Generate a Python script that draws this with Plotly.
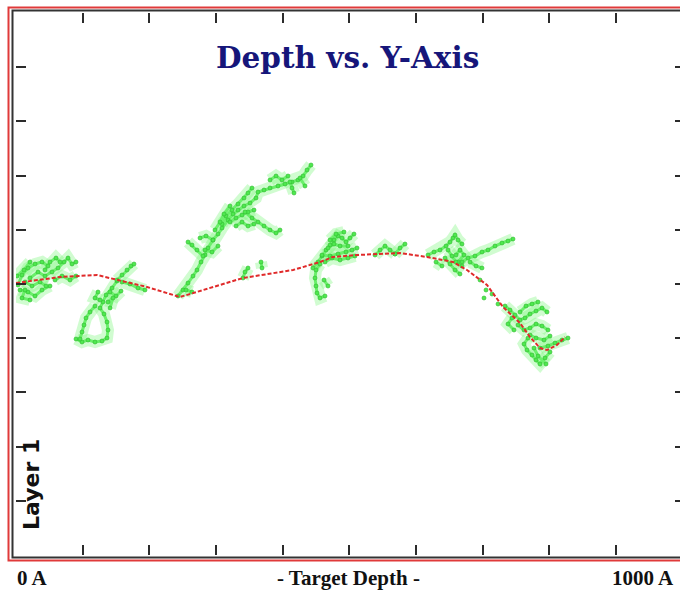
import plotly.graph_objects as go

# ---------------------------------------------------------------
# Mean path of the deposit: target depth (A) vs. lateral Y position
# ---------------------------------------------------------------
path_depth = [0, 36, 66, 121.5, 151.5, 196.5, 246, 265.5, 340.5, 415.5, 456, 475.5,
              511.5, 576, 616.5, 655.5, 676.5, 706.5, 730.5, 756, 771, 786, 796.5,
              811.5, 823.5]
path_y = [1, 4, 7, 9, 4, -3, -13, -9, 6, 14, 22, 27, 29, 31, 27, 22, 14, -1, -23,
          -39, -53, -64, -66, -61, -53]

# ---------------------------------------------------------------
# Dendritic clusters (None separates individual branches)
# ---------------------------------------------------------------
cluster_a_depth = [3, 9, 18, 28.5, 39, 48, None, 6, 18, 28.5, 39, 51, None,
                   21, 33, 43.5, 54, 63, 72, 78, 84, 90, None, 58.5, 69, 81, 90, None,
                   13.5, 24, 36, 45, None, 1.5, 12, 21, None, 43.5, 51, 60, 66, None,
                   13.5, 9, 21]
cluster_a_y = [-1, 9, 16, 20, 22, 18, None, -6, -8, -12, -6, -2, None,
               6, 12, 8, 12, 16, 22, 26, 20, 22, None, 4, 8, 4, 8, None,
               2, -2, 2, -2, None, 8, 14, 22, None, 14, 22, 26, 22, None,
               -6, -14, -16]

cluster_b_depth = [151.5, 144, 135, 130.5, 126, 132, 136.5, 138, 136.5, 129, 118.5, 108, 99, 90, None,
                   118.5, 111, 105, 102, 99, 96, None, 141, 150, 157.5, None,
                   151.5, 159, 166.5, 172.5, 177, None, 159, 171, 183, 193.5, None,
                   126, 118.5, 123, None, 138, 145.5, 141]
cluster_b_y = [3, -4, -11, -18, -24, -30, -38, -46, -54, -57, -58, -56, -58, -55, None,
               -22, -28, -34, -41, -48, -55, None, -8, -12, -7, None,
               4, 9, 14, 18, 20, None, 2, 0, -4, -6, None,
               -16, -14, -8, None, -18, -14, -24]

cluster_c_depth = [243, 250.5, 258, 265.5, 271.5, 277.5, 283.5, 288, 295.5, 303, 309, 318, 325.5,
                   333, 342, 351, 360, 363, 372, 381, 393, 403.5, 414, 423, 430.5, 436.5, 442.5, None,
                   309, 315, 324, 333, 342, 348, 354, None,
                   321, 330, 339, 348, 357, None,
                   343.5, 354, 363, 372, 381, 390, 396, None,
                   280.5, 271.5, 264, 258, None,
                   295.5, 285, 276, None,
                   411, 414, 417, None, 426, 433.5, None,
                   340.5, 343.5, 348, None, 369, 367.5, None,
                   298.5, 306, 312, 321, None,
                   330, 339, 348, 357, None,
                   283.5, 294, 303, None,
                   381, 390, 399, 408, None,
                   255, 264]
cluster_c_y = [-12, -6, 1, 8, 14, 22, 29, 36, 44, 50, 56, 64, 70,
               74, 78, 81, 86, 92, 94, 96, 98, 100, 102, 104, 108, 114, 119, None,
               60, 68, 74, 80, 86, 91, 96, None,
               62, 66, 69, 72, 74, None,
               72, 66, 62, 58, 54, 51, 54, None,
               28, 34, 39, 42, None,
               44, 48, 46, None,
               102, 96, 91, None, 106, 98, None,
               6, 12, 16, None, 16, 22, None,
               54, 62, 70, 78, None,
               58, 62, 58, 60, None,
               34, 32, 38, None,
               104, 108, 104, 108, None,
               -6, -8]

cluster_d_depth = [445.5, 453, 459, 465, 471, 477, 483, 489, 495, 501, 507, None,
                   456, 450, 448.5, 450, 451.5, 456, 463.5, None,
                   459, 471, 483, 495, 504, 511.5, None,
                   468, 477, 486, 498, None, 462, 468, None,
                   463.5, 474, 486, 498, 508.5, None,
                   471, 480, 492]
cluster_d_y = [16, 22, 28, 34, 39, 44, 48, 46, 42, 46, 50, None,
               20, 14, 6, -2, -9, -14, -12, None,
               29, 28, 30, 32, 34, 36, None,
               36, 40, 38, 38, None, 4, -2, None,
               22, 26, 24, 26, 28, None,
               44, 50, 52]

cluster_e_depth = [538.5, 546, 553.5, 561, 568.5, None, 568.5, 576, 583.5]
cluster_e_y = [29, 34, 38, 34, 30, None, 30, 36, 40]

cluster_f_depth = [618, 627, 636, 645, 651, 655.5, 658.5, 663, 669, None,
                   643.5, 651, 658.5, 666, None,
                   669, 678, 688.5, 699, 708, 718.5, 729, 738, 745.5, None,
                   681, 690, 699, None, 660, 666, 672, 663, None,
                   648, 654, 660, 669, None, 630, 639, None,
                   696, None, 705, None, 714, None, 723, None, 702]
cluster_f_y = [29, 32, 34, 38, 42, 46, 49, 44, 40, None,
               26, 20, 14, 10, None,
               22, 26, 28, 32, 34, 38, 41, 43, 45, None,
               22, 18, 16, None, 29, 34, 29, 22, None,
               34, 28, 22, 18, None, 22, 18, None,
               4, None, -6, None, -10, None, -20, None, -14]

cluster_h_depth = [733.5, 741, 748.5, 756, 763.5, 771, 780, 789, 796.5, None,
                   753, 762, 771, 780, 789, 798, None,
                   768, 762, 766.5, 774, 780, 786, 793.5, 801, None,
                   786, 798, 808.5, 819, 828, None, 744, 738, 747, None,
                   756, 765, 774, 783, None,
                   771, 780, 792, 801, None,
                   777, 783, 795]
cluster_h_y = [-22, -26, -31, -36, -34, -30, -27, -24, -28, None,
               -41, -46, -44, -40, -42, -46, None,
               -54, -60, -66, -71, -76, -80, -74, -68, None,
               -64, -62, -59, -56, -54, None, -34, -40, -46, None,
               -28, -22, -20, -18, None,
               -51, -54, -56, -52, None,
               -64, -72, -80]

clusters = [
    (cluster_a_depth, cluster_a_y),
    (cluster_b_depth, cluster_b_y),
    (cluster_c_depth, cluster_c_y),
    (cluster_d_depth, cluster_d_y),
    (cluster_e_depth, cluster_e_y),
    (cluster_f_depth, cluster_f_y),
    (cluster_h_depth, cluster_h_y),
]

# ---------------------------------------------------------------
# Page geometry (pixels)
# ---------------------------------------------------------------
W, H = 680, 590
ML, MT, MB = 16, 13, 35
PW, PH = W - ML, H - MT - MB
X_RANGE = [0, 996]
Y_RANGE = [-271, 271]


def paper_x(px):
    return (px - ML) / PW


def paper_y(py):
    return (H - MB - py) / PH


fig = go.Figure()

for dx, dy in clusters:
    # soft halo gives the fuzzy look of the aggregate
    fig.add_trace(go.Scatter(
        x=dx, y=dy, mode="lines", connectgaps=False, hoverinfo="skip",
        line=dict(color="rgba(120,245,120,0.35)", width=12),
    ))
    fig.add_trace(go.Scatter(
        x=dx, y=dy, mode="lines+markers", connectgaps=False,
        line=dict(color="#6af06a", width=3),
        marker=dict(size=4, color="#4fe84f", line=dict(color="#2fb82f", width=0.6)),
    ))

fig.add_trace(go.Scatter(
    x=path_depth, y=path_y, mode="lines", yaxis="y2",
    line=dict(color="#e02a2a", width=2, dash="4px,2px"),
))

tick_style = dict(ticks="inside", tickwidth=2, tickcolor="#2b2b2b",
                  showticklabels=False, showgrid=False, zeroline=False)

fig.update_layout(
    width=W, height=H,
    margin=dict(l=ML, r=0, t=MT, b=MB),
    paper_bgcolor="white", plot_bgcolor="white",
    showlegend=False,
    xaxis=dict(range=X_RANGE, tick0=0, dtick=100, ticklen=10, mirror="ticks", **tick_style),
    yaxis=dict(range=Y_RANGE, tick0=0, dtick=54.2, ticklen=10, **tick_style),
    yaxis2=dict(range=Y_RANGE, tick0=0, dtick=54.2, ticklen=5, overlaying="y",
                side="right", **tick_style),
)

# double border: dark inner frame, red outer frame
fig.add_shape(type="rect", xref="paper", yref="paper",
              x0=paper_x(12.5), x1=paper_x(W + 20), y0=paper_y(557.5), y1=paper_y(10.5),
              line=dict(color="#333333", width=2))
fig.add_shape(type="rect", xref="paper", yref="paper",
              x0=paper_x(8.5), x1=paper_x(W + 20), y0=paper_y(560.5), y1=paper_y(7.5),
              line=dict(color="#e03a3a", width=2))

fig.add_annotation(
    text="<b>Depth vs. Y-Axis</b>", xref="paper", yref="paper",
    x=paper_x(347), y=paper_y(57), xanchor="center", yanchor="middle", showarrow=False,
    font=dict(family="DejaVu Serif", size=29.5, color="#16167a"),
)
fig.add_annotation(
    text="<b>Layer 1</b>", xref="paper", yref="paper", textangle=-90,
    x=paper_x(31), y=paper_y(485), xanchor="center", yanchor="middle", showarrow=False,
    font=dict(family="DejaVu Sans", size=22, color="#111111"),
)
bottom_font = dict(family="Liberation Serif", size=21, color="#111111")
fig.add_annotation(
    text="<b>0 A</b>", xref="paper", yref="paper", x=paper_x(15), y=paper_y(578),
    xanchor="left", yanchor="middle", showarrow=False, font=bottom_font,
)
fig.add_annotation(
    text="<b>- Target Depth -</b>", xref="paper", yref="paper", x=paper_x(348.5), y=paper_y(578),
    xanchor="center", yanchor="middle", showarrow=False, font=bottom_font,
)
fig.add_annotation(
    text="<b>1000 A</b>", xref="paper", yref="paper", x=paper_x(676), y=paper_y(578),
    xanchor="right", yanchor="middle", showarrow=False, font=bottom_font,
)

fig.write_html("out.html")
